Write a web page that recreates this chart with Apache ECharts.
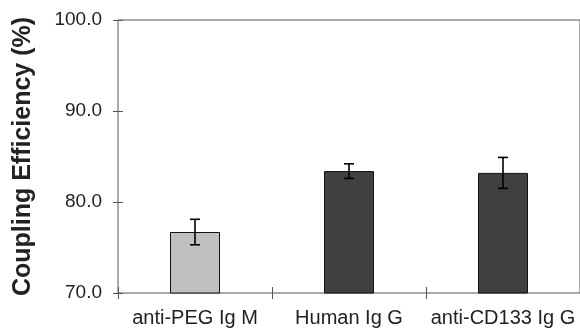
<!DOCTYPE html>
<html><head><meta charset="utf-8">
<script src="https://cdn.jsdelivr.net/npm/echarts@6/dist/echarts.min.js"></script>
<style>html,body{margin:0;padding:0;background:#fff}#c{width:580px;height:328px}</style>
</head><body><div id="c"></div>
<script>
var categories = ["anti-PEG Ig M", "Human Ig G", "anti-CD133 Ig G"];
var efficiency = [76.7, 83.4, 83.2];
var errors = [1.4, 0.8, 1.7];
var barColors = ["#c0c0c0", "#404040", "#404040"];
var yMin = 70, yMax = 100, yStep = 10;

var chart = echarts.init(document.getElementById('c'), null, {renderer: 'canvas'});
var font = '"Liberation Sans", Arial, sans-serif';
var axisColor = '#555';
var errData = categories.map(function (c, i) { return [i, efficiency[i] - errors[i], efficiency[i] + errors[i]]; });

chart.setOption({
  animation: false,
  grid: {left: 118, top: 20, width: 466, bottom: 34, show: true, borderColor: axisColor, borderWidth: 1, backgroundColor: 'transparent'},
  xAxis: {
    type: 'category', data: categories, position: 'bottom', offset: -6,
    axisLine: {show: false},
    axisTick: {show: true, length: 12, lineStyle: {color: axisColor}},
    axisLabel: {fontFamily: font, fontSize: 20, color: '#222', margin: 21, interval: 0, hideOverlap: false}
  },
  yAxis: {
    type: 'value', min: yMin, max: yMax, interval: yStep, offset: -5,
    name: 'Coupling Efficiency (%)', nameLocation: 'middle', nameGap: 87,
    nameTextStyle: {fontFamily: font, fontSize: 25, fontWeight: 'bold', color: '#222'},
    axisLine: {show: false},
    axisTick: {show: true, length: 10, lineStyle: {color: axisColor}},
    axisLabel: {fontFamily: font, fontSize: 19, color: '#222', margin: 21, formatter: function (v) { return v.toFixed(1); }},
    splitLine: {show: false}
  },
  series: [{
    type: 'bar', barWidth: 50,
    data: efficiency.map(function (v, i) { return {value: v, itemStyle: {color: barColors[i]}}; }),
    itemStyle: {borderColor: '#111', borderWidth: 1}
  }, {
    type: 'custom', data: errData, z: 10,
    renderItem: function (params, api) {
      var x = api.value(0);
      var lo = api.coord([x, api.value(1)]);
      var hi = api.coord([x, api.value(2)]);
      var cw = 5;
      var st = {stroke: '#000', lineWidth: 1.6};
      return {type: 'group', children: [
        {type: 'line', shape: {x1: lo[0], y1: lo[1], x2: hi[0], y2: hi[1]}, style: st},
        {type: 'line', shape: {x1: lo[0] - cw, y1: lo[1], x2: lo[0] + cw, y2: lo[1]}, style: st},
        {type: 'line', shape: {x1: hi[0] - cw, y1: hi[1], x2: hi[0] + cw, y2: hi[1]}, style: st}
      ]};
    }
  }]
});
</script></body></html>
